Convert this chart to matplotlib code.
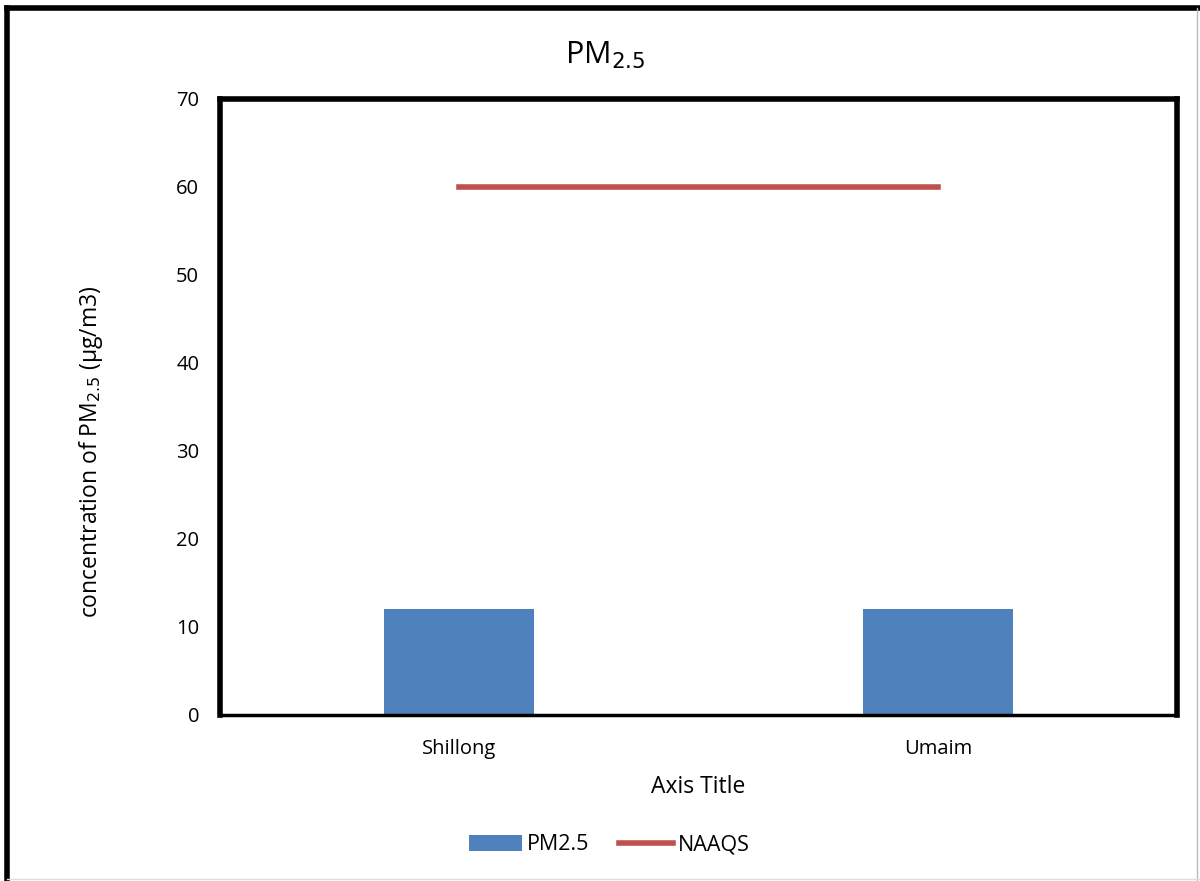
import matplotlib
matplotlib.use("Agg")
import matplotlib.pyplot as plt
from matplotlib.lines import Line2D

plt.rcParams["font.family"] = ["Open Sans", "DejaVu Sans"]

sites = ["Shillong", "Umaim"]
pm25 = [12, 12]
naaqs = [60, 60]
y_ticks = [0, 10, 20, 30, 40, 50, 60, 70]

fig = plt.figure(figsize=(12, 8.81), dpi=100)
ax = fig.add_axes([220 / 1200, 1 - 715 / 881, 957 / 1200, 616 / 881])

x = list(range(len(sites)))
bars = ax.bar(x, pm25, width=0.313, color="#4F81BD", label="PM2.5", zorder=2)
line, = ax.plot(x, naaqs, color="#C0504D", linewidth=4, label="NAAQS", zorder=3)

ax.set_xlim(-0.5, len(sites) - 0.5)
ax.set_ylim(0, 70)
ax.set_yticks(y_ticks)
ax.set_xticks(x)
ax.set_xticklabels(sites)
ax.tick_params(axis="both", length=0, labelsize=14.5)
ax.tick_params(axis="x", pad=17)
ax.tick_params(axis="y", pad=15)

for side in ["top", "left", "right"]:
    ax.spines[side].set_linewidth(4)
    ax.spines[side].set_color("black")
ax.spines["bottom"].set_linewidth(2.5)
ax.spines["bottom"].set_color("black")

ax.set_xlabel("Axis Title", fontsize=16.5, labelpad=12)
fig.text(91 / 1200, 1 - 452 / 881, "concentration of PM$_{2.5}$ (\u03bcg/m3)",
         fontsize=16.5, rotation=90, ha="center", va="center")
fig.text(605 / 1200, 1 - 55 / 881, "PM$_{2.5}$", fontsize=22, ha="center", va="center")

fig.legend([bars, line], ["PM2.5", "NAAQS"], loc="center",
           bbox_to_anchor=(609 / 1200, 1 - 845 / 881), ncol=2, frameon=False,
           fontsize=15.5, handlelength=2.5, handleheight=0.7, columnspacing=1.4,
           handletextpad=0.2)

# outer chart border
fig.add_artist(Line2D([7 / 1200, 7 / 1200], [0, 1 - 8 / 881], transform=fig.transFigure,
                      color="black", linewidth=4))
fig.add_artist(Line2D([7 / 1200, 1], [1 - 8 / 881, 1 - 8 / 881], transform=fig.transFigure,
                      color="black", linewidth=4))
fig.add_artist(Line2D([1197 / 1200, 1197 / 1200], [0, 1 - 8 / 881], transform=fig.transFigure,
                      color="#BBBBBB", linewidth=1))
fig.add_artist(Line2D([7 / 1200, 1], [2 / 881, 2 / 881], transform=fig.transFigure,
                      color="#DDDDDD", linewidth=1))

fig.savefig("out.png", dpi=100)
